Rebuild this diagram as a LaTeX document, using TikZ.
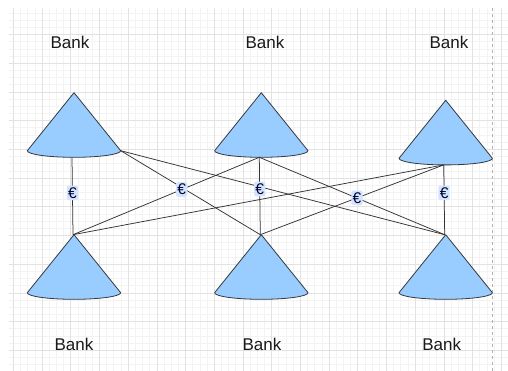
\documentclass[tikz,border=0pt]{standalone}
\usepackage{fontspec}
\setmainfont{Liberation Sans}
\definecolor{conefill}{HTML}{99CCFF}
\definecolor{conestroke}{HTML}{36393D}
\definecolor{gridmajor}{HTML}{E2E2E2}
\definecolor{gridminor}{HTML}{F3F3F3}
\definecolor{eurbg}{HTML}{D2E5FC}
\definecolor{linkcol}{HTML}{333333}
\tikzset{
  minorline/.style={draw=gridminor, line width=0.6pt},
  majorline/.style={draw=gridmajor, line width=0.6pt},
  pagebreak/.style={draw=black!30, line width=0.6pt, dash pattern=on 3pt off 3pt},
  conebody/.style={fill=conefill, draw=conestroke, line width=0.8pt, line join=round},
  link/.style={draw=linkcol, line width=0.75pt},
  banklabel/.style={font=\fontsize{17}{20}\selectfont, inner sep=0pt, text=black!90},
  eur/.style={font=\fontsize{15.5}{16}\selectfont, fill=eurbg, rounded corners=2pt,
    inner xsep=1.3pt, inner ysep=1.8pt, text=black!80!blue},
  bankcone/.pic={
    \path[conebody] (-46.7,0) -- (0,-58) -- (46.7,0)
      arc[start angle=0, end angle=180, x radius=46.7, y radius=6.6] -- cycle;
    \coordinate (-top) at (-1,-58);
    \coordinate (-bot) at (-2,6.6);
    \coordinate (-right) at (46.7,0);
  }
}
\begin{document}
\begin{tikzpicture}[x=1pt, y=-1pt]
  \useasboundingbox (0,0) rectangle (508,371);
  \fill[white] (0,0) rectangle (508,371);

  % background grid
  \begin{scope}
    \clip (9,8) rectangle (508,371);
    \foreach \k in {0,...,69} {
      \pgfmathsetmacro\gx{13.3+7.175*\k}
      \draw[minorline] (\gx,8) -- (\gx,371);
    }
    \foreach \j in {-3,...,46} {
      \pgfmathsetmacro\gy{34.5+7.175*\j}
      \draw[minorline] (9,\gy) -- (508,\gy);
    }
    \foreach \k in {0,...,17} {
      \pgfmathsetmacro\gx{13.3+28.7*\k}
      \draw[majorline] (\gx,8) -- (\gx,371);
    }
    \foreach \j in {0,...,11} {
      \pgfmathsetmacro\gy{34.5+28.7*\j}
      \draw[majorline] (9,\gy) -- (508,\gy);
    }
  \end{scope}
  \draw[pagebreak] (492.7,8) -- (492.7,371);

  % banks
  \pic (tl) at (74,150.7) {bankcone};
  \pic (tm) at (261.3,150.7) {bankcone};
  \pic (tr) at (445.7,158.3) {bankcone};
  \pic (bl) at (74,292.7) {bankcone};
  \pic (bm) at (261.3,292.7) {bankcone};
  \pic (br) at (445.7,292.7) {bankcone};

  % payment links
  \draw[link] (tl-bot) -- node[eur, pos=0.46] (e1) {€} (bl-top);
  \draw[link] (tl-right) -- (bm-top);
  \draw[link] (tl-right) -- (br-top);
  \draw[link] (tm-bot) -- (br-top);
  \draw[link] (tm-bot) -- node[eur, pos=0.4165] (e2) {€} (bl-top);
  \draw[link] (tm-bot) -- node[eur, pos=0.41] (e3) {€} (bm-top);
  \draw[link] (tr-bot) -- (bl-top);
  \draw[link] (tr-bot) -- node[eur, pos=0.473] (e4) {€} (bm-top);
  \draw[link] (tr-bot) -- node[eur, pos=0.40] (e5) {€} (br-top);

  % bank names
  \node[banklabel] (n1) at (70,42.2) {Bank};
  \node[banklabel] (n2) at (265,42.2) {Bank};
  \node[banklabel] (n3) at (449,42.2) {Bank};
  \node[banklabel] (n4) at (74,344) {Bank};
  \node[banklabel] (n5) at (262,344) {Bank};
  \node[banklabel] (n6) at (441.7,344) {Bank};
\end{tikzpicture}
\end{document}
